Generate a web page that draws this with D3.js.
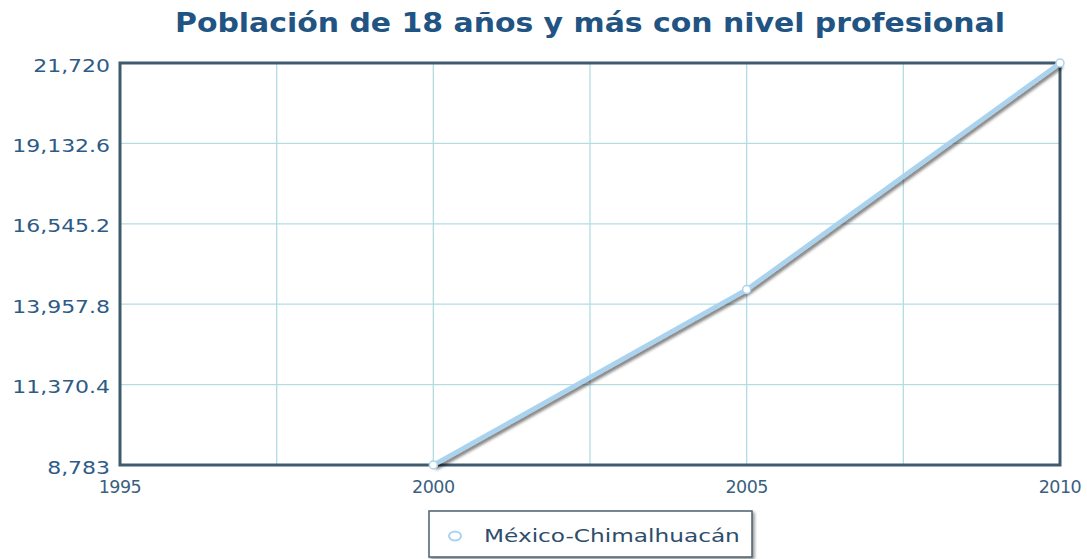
<!DOCTYPE html>
<html>
<head>
<meta charset="utf-8">
<script src="https://cdn.jsdelivr.net/npm/d3@7"></script>
<style>
  html, body { margin: 0; padding: 0; background: #fff; }
  svg { display: block; }
</style>
</head>
<body>
<svg id="chart" width="1087" height="559"></svg>
<script>
// Series data
const years = [2000, 2005, 2010];
const values = [8783, 14430, 21720];
const seriesName = "México-Chimalhuacán";
const title = "Población de 18 años y más con nivel profesional";
// Axis ticks
const yTicks = [8783, 11370.4, 13957.8, 16545.2, 19132.6, 21720];
const xLabelTicks = [1995, 2000, 2005, 2010];
const xGridTicks = [1995, 1997.5, 2000, 2002.5, 2005, 2007.5, 2010];

const FONT = "DejaVu Sans, Verdana, sans-serif";
const svg = d3.select("#chart");
const m = { left: 120, right: 1060, top: 63, bottom: 465 };

const x = d3.scaleLinear().domain([1995, 2010]).range([m.left, m.right]);
const y = d3.scaleLinear().domain([8783, 21720]).range([m.bottom, m.top]);

const defs = svg.append("defs");
function addShadow(id, dx, dy, blur, alpha) {
  const f = defs.append("filter").attr("id", id)
    .attr("x", "-10%").attr("y", "-10%").attr("width", "125%").attr("height", "140%");
  f.append("feGaussianBlur").attr("in", "SourceAlpha").attr("stdDeviation", blur);
  f.append("feOffset").attr("dx", dx).attr("dy", dy);
  f.append("feComponentTransfer").append("feFuncA").attr("type", "linear").attr("slope", alpha);
  const mg = f.append("feMerge");
  mg.append("feMergeNode");
  mg.append("feMergeNode").attr("in", "SourceGraphic");
}
addShadow("lineShadow", 1.5, 3, 1.5, 0.5);
addShadow("boxShadow", 2, 2, 1.5, 0.4);

// Title (wide face, stretched horizontally)
svg.append("text")
  .attr("transform", "translate(590,32) scale(1.15,1)")
  .attr("text-anchor", "middle")
  .attr("font-family", FONT)
  .attr("font-weight", "bold")
  .attr("font-size", 26)
  .attr("fill", "#215482")
  .text(title);

// Grid
const grid = svg.append("g");
grid.selectAll("line.v").data(xGridTicks).join("line")
  .attr("x1", d => x(d)).attr("x2", d => x(d))
  .attr("y1", m.top).attr("y2", m.bottom)
  .attr("stroke", "#b3dde3").attr("stroke-width", 1.3);
grid.selectAll("line.h").data(yTicks).join("line")
  .attr("x1", m.left).attr("x2", m.right)
  .attr("y1", d => y(d)).attr("y2", d => y(d))
  .attr("stroke", "#b3dde3").attr("stroke-width", 1.3);

// Y axis labels
const fmt = d3.format(",");
svg.append("g").selectAll("text").data(yTicks).join("text")
  .attr("transform", d => `translate(${m.left - 10},${y(d) + 8.5}) scale(1.22,1)`)
  .attr("text-anchor", "end")
  .attr("font-family", FONT)
  .attr("font-size", 18)
  .attr("fill", "#2d5b86")
  .text(d => fmt(d));

// X axis labels
svg.append("g").selectAll("text").data(xLabelTicks).join("text")
  .attr("x", d => x(d)).attr("y", m.bottom + 28)
  .attr("text-anchor", "middle")
  .attr("font-family", FONT)
  .attr("font-size", 17.5)
  .attr("letter-spacing", -0.5)
  .attr("fill", "#3b5f80")
  .text(d => d3.format("d")(d));

// Plot border
svg.append("rect")
  .attr("x", m.left).attr("y", m.top)
  .attr("width", m.right - m.left).attr("height", m.bottom - m.top)
  .attr("fill", "none").attr("stroke", "#3f5a6d").attr("stroke-width", 3);

// Series line
const pts = years.map((yr, i) => ({ yr, v: values[i] }));
svg.append("path")
  .datum(pts)
  .attr("d", d3.line().x(d => x(d.yr)).y(d => y(d.v)))
  .attr("fill", "none")
  .attr("stroke", "#aad3f0")
  .attr("stroke-width", 4.5)
  .attr("stroke-linejoin", "round")
  .attr("filter", "url(#lineShadow)");

svg.selectAll("circle.pt").data(pts).join("circle")
  .attr("class", "pt")
  .attr("cx", d => x(d.yr)).attr("cy", d => y(d.v))
  .attr("r", 4)
  .attr("fill", "#fff")
  .attr("stroke", "#aad3f0")
  .attr("stroke-width", 1.5);

// Legend
const lg = svg.append("g");
lg.append("rect")
  .attr("x", 429).attr("y", 511).attr("width", 323).attr("height", 46)
  .attr("fill", "#fff").attr("stroke", "#4a5f70").attr("stroke-width", 1.5)
  .attr("filter", "url(#boxShadow)");
lg.append("ellipse")
  .attr("cx", 455).attr("cy", 536).attr("rx", 6).attr("ry", 4.5)
  .attr("fill", "#fff").attr("stroke", "#aad3f0").attr("stroke-width", 2);
lg.append("text")
  .attr("transform", "translate(484,542) scale(1.29,1)")
  .attr("font-family", FONT)
  .attr("font-size", 18)
  .attr("fill", "#2e4d6c")
  .text(seriesName);
</script>
</body>
</html>
